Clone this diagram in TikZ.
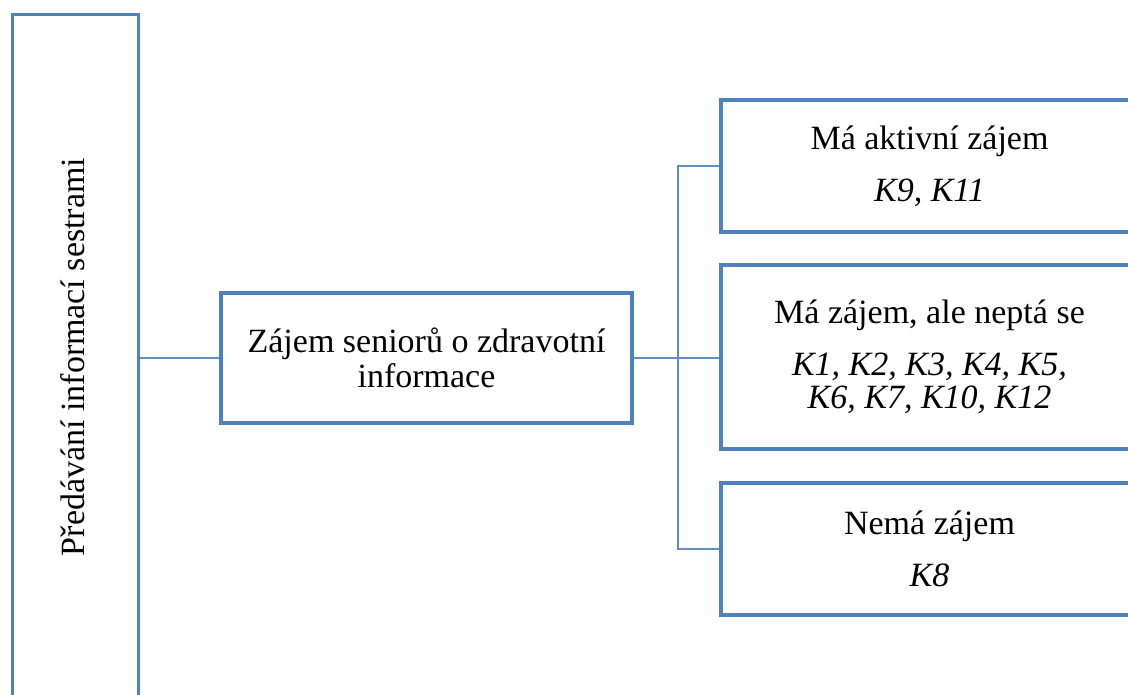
\documentclass[tikz,border=0pt]{standalone}
\usepackage{fontspec}
\setmainfont{Liberation Serif}
\definecolor{boxblue}{HTML}{4F81BD}
\definecolor{linkblue}{HTML}{5F8FC8}
\begin{document}
\begin{tikzpicture}[x=1pt,y=-1pt,
  box/.style={draw=boxblue, line width=3.4pt, fill=white, inner sep=0pt,
    align=center, font=\fontsize{34}{35}\selectfont},
  link/.style={draw=linkblue, line width=2.2pt}]
  \useasboundingbox (0,0) rectangle (1128,695);
  \clip (0,0) rectangle (1128,695);

  % left column, running past the lower edge
  \node[box, minimum width=126pt, minimum height=685pt] (lbox) at (75.5,357) {};
  \node[font=\fontsize{34}{35}\selectfont, rotate=90] (ltext) at (73,357)
    {Předávání informací sestrami};

  % central topic
  \node[box, minimum width=411pt, minimum height=130pt] (mbox) at (426.5,358)
    {Zájem seniorů o zdravotní\\informace};

  % three categories, cut by the right edge
  \node[box, minimum width=417pt, minimum height=132pt] (b1) at (929.5,166)
    {Má aktivní zájem\\[17pt]\itshape K9, K11};
  \node[box, minimum width=417pt, minimum height=184pt] (b2) at (929.5,357)
    {Má zájem, ale neptá se\\[17pt]\itshape K1, K2, K3, K4, K5,\\[-2pt]\itshape K6, K7, K10, K12};
  \node[box, minimum width=417pt, minimum height=132pt] (b3) at (929.5,549)
    {Nemá zájem\\[17pt]\itshape K8};

  % connectors
  \draw[link] (lbox.east |- mbox.west) -- (mbox.west);
  \draw[link] (mbox.east) -- (mbox.east -| b2.west);
  \draw[link] (b1.west) -- ++(-41,0) coordinate (bend) |- (b3.west);
\end{tikzpicture}
\end{document}
